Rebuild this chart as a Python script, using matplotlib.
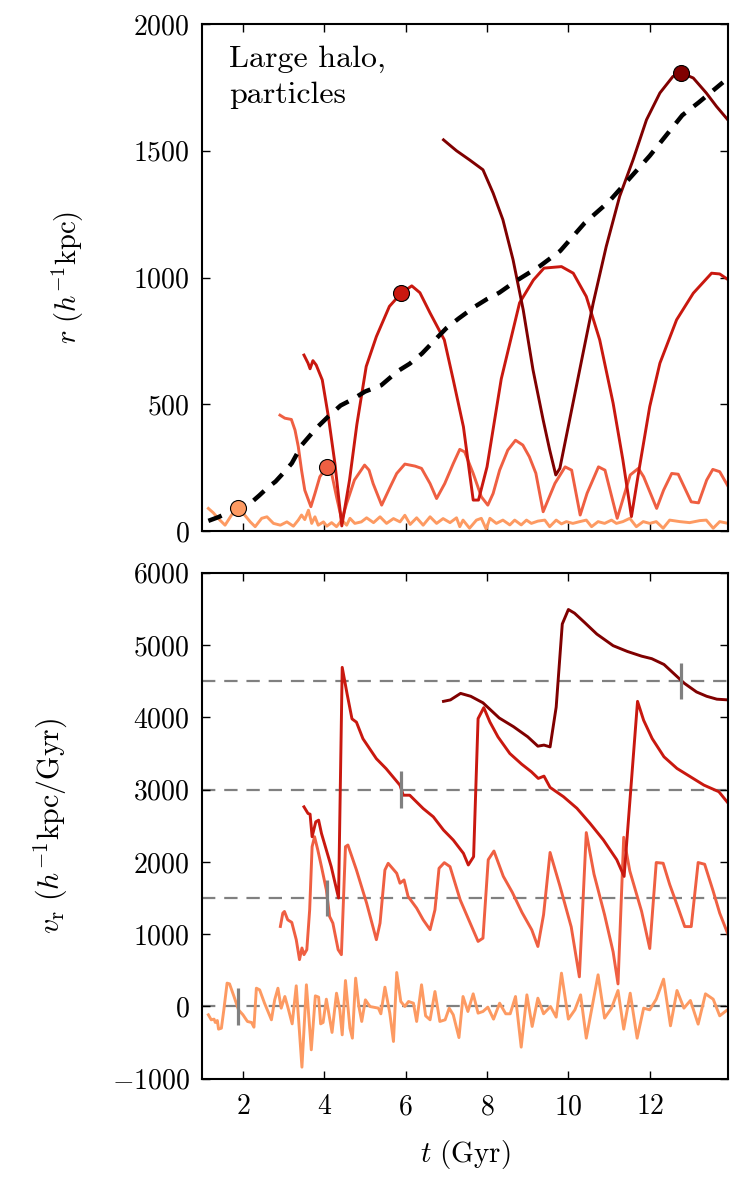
import numpy as np
import matplotlib
matplotlib.use("Agg")
import matplotlib.pyplot as plt

plt.rcParams.update({
    "font.family": "serif",
    "font.serif": ["cmr10", "DejaVu Serif"],
    "mathtext.fontset": "cm",
    "axes.formatter.use_mathtext": True,
    "axes.unicode_minus": True,
    "font.size": 20,
})

# ---------------- data ----------------
colors = ["#fd9a62", "#ef5f42", "#c9180f", "#800000"]
offsets = [0, 1500, 3000, 4500]

# halo radius (black dashed)
t_halo = [1.15, 1.4, 1.8, 2.2, 2.4, 2.6, 2.8, 3.0, 3.2, 3.45, 3.8, 4.1, 4.4, 4.7, 5.0,
          5.4, 5.8, 6.1, 6.4, 6.8, 7.0, 7.3, 7.7, 8.0, 8.3, 8.7, 9.0, 9.3, 9.8, 10.4,
          11.0, 11.5, 12.0, 12.4, 12.8, 13.2, 13.8]
r_halo = [40, 55, 85, 112, 140, 170, 195, 230, 267, 340, 405, 452, 495, 520, 550,
          575, 630, 660, 700, 767, 800, 838, 885, 915, 940, 985, 1015, 1045, 1105, 1215,
          1300, 1390, 1480, 1560, 1640, 1690, 1770]

# particle 1 (lightest)
t_r1 = [1.15, 1.27, 1.39, 1.56, 1.72, 1.87, 2.01, 2.18, 2.30, 2.46, 2.59, 2.75, 2.92, 3.08, 3.24,
        3.36, 3.44, 3.52, 3.61, 3.69, 3.77, 3.85, 3.98, 4.06, 4.18, 4.30, 4.43, 4.55, 4.63, 4.75,
        4.91, 5.04, 5.21, 5.37, 5.53, 5.70, 5.86, 5.98, 6.11, 6.27, 6.43, 6.60, 6.76, 6.92, 7.09,
        7.25, 7.33, 7.41, 7.57, 7.74, 7.86, 7.98, 8.07, 8.23, 8.39, 8.56, 8.68, 8.84, 8.97, 9.09,
        9.25, 9.42, 9.54, 9.70, 9.83, 9.95, 10.11, 10.28, 10.44, 10.57, 10.73, 10.89, 11.06, 11.18, 11.34,
        11.51, 11.67, 11.84, 12.0, 12.16, 12.33, 12.49, 12.74, 12.98, 13.23, 13.39, 13.56, 13.72, 13.93]
r_1 = [89, 72, 50, 23, 63, 93, 69, 36, 17, 50, 56, 30, 23, 36, 19,
       43, 63, 45, 82, 30, 56, 23, 36, 19, 33, 17, 43, 23, 50, 30,
       36, 52, 33, 56, 30, 49, 36, 62, 26, 52, 23, 56, 30, 49, 33,
       52, 17, 43, 11, 43, 50, 7, 50, 30, 43, 24, 43, 24, 43, 30,
       39, 43, 17, 43, 28, 37, 30, 37, 43, 17, 37, 30, 43, 30, 37,
       50, 17, 37, 30, 37, 11, 43, 37, 33, 41, 43, 11, 37, 30]
t_v1 = [1.15, 1.22, 1.29, 1.32, 1.37, 1.40, 1.47, 1.53, 1.61, 1.67, 1.78, 1.89, 2.0, 2.11, 2.21,
        2.27, 2.33, 2.41, 2.53, 2.70, 2.78, 2.86, 2.94, 3.03, 3.11, 3.21, 3.31, 3.45, 3.56, 3.68,
        3.78, 3.86, 3.91, 3.97, 4.05, 4.19, 4.30, 4.38, 4.44, 4.52, 4.63, 4.69, 4.77, 4.85, 4.92,
        5.01, 5.12, 5.33, 5.39, 5.49, 5.61, 5.70, 5.78, 5.88, 5.98, 6.07, 6.19, 6.27, 6.39, 6.49,
        6.60, 6.72, 6.84, 6.97, 7.07, 7.17, 7.31, 7.41, 7.53, 7.66, 7.78, 7.9, 8.02, 8.16, 8.31,
        8.46, 8.57, 8.70, 8.84, 8.98, 9.11, 9.25, 9.39, 9.56, 9.70, 9.83, 10.0, 10.16, 10.30, 10.44,
        10.73, 10.89, 11.06, 11.22, 11.36, 11.52, 11.69, 11.85, 12.0, 12.16, 12.34, 12.51, 12.67, 12.84, 13.0,
        13.19, 13.37, 13.56, 13.72, 13.93]
v_1 = [-115, -184, -175, -221, -194, -313, -300, -46, 323, 313, 138, -46, -115, -207, -221,
       -286, 253, 230, 46, -184, 92, 253, -23, 138, -23, -240, 286, -839, 300, -599,
       147, 129, -240, -221, 101, -359, 184, -46, -392, 359, -300, -438, 392, 0, -207,
       92, 0, -23, -101, 267, -92, -484, 470, 69, 0, 69, 46, -207, 300, -129,
       -184, 207, -207, -184, -23, -115, -430, 138, -69, 175, -92, -69, -9, -175, 46,
       -101, -101, 138, -562, 161, -276, 115, -101, 0, -147, 461, -175, -46, 161, -438,
       438, -161, -23, 221, -313, 184, -438, -23, -46, 101, 378, -267, 221, -23, 83,
       -244, 175, 101, -129, -37]

# particle 2
t_r2 = [2.91, 3.03, 3.19, 3.28, 3.36, 3.44, 3.52, 3.67, 3.77, 3.89, 4.06, 4.18, 4.3, 4.43, 4.55,
        4.74, 4.99, 5.1, 5.2, 5.41, 5.62, 5.78, 5.98, 6.23, 6.39, 6.6, 6.76, 6.96, 7.17, 7.33,
        7.45, 7.66, 7.86, 8.02, 8.15, 8.31, 8.51, 8.7, 8.88, 9.04, 9.2, 9.38, 9.67, 9.92, 10.08,
        10.29, 10.46, 10.74, 10.9, 11.2, 11.52, 11.72, 11.85, 12.17, 12.34, 12.54, 12.7, 13.02, 13.2, 13.4,
        13.55, 13.72, 13.93]
r_2 = [457, 445, 440, 398, 333, 240, 161, 96, 148, 214, 253, 227, 135, 43, 109,
       201, 260, 240, 187, 102, 174, 227, 264, 256, 247, 187, 128, 187, 266, 322,
       312, 227, 135, 102, 148, 240, 319, 358, 339, 293, 228, 76, 188, 253, 240,
       63, 149, 253, 240, 50, 221, 247, 214, 89, 161, 227, 224, 115, 111, 201,
       243, 234, 175]
t_v2 = [2.92, 2.98, 3.02, 3.1, 3.2, 3.31, 3.39, 3.45, 3.5, 3.57, 3.64, 3.7, 3.76, 3.84, 3.93,
        4.05, 4.13, 4.21, 4.34, 4.42, 4.52, 4.58, 4.79, 5.04, 5.28, 5.37, 5.49, 5.57, 5.78, 5.86,
        5.96, 6.06, 6.27, 6.43, 6.6, 6.72, 6.82, 6.95, 7.09, 7.34, 7.55, 7.78, 7.9, 8.03, 8.17,
        8.4, 8.62, 8.86, 9.1, 9.25, 9.39, 9.55, 9.79, 10.07, 10.27, 10.44, 10.63, 10.89, 11.1, 11.22,
        11.36, 11.51, 11.8, 12.0, 12.16, 12.33, 12.49, 12.7, 12.86, 13.02, 13.19, 13.35, 13.56, 13.72, 13.93]
v_2 = [-393, -209, -186, -301, -337, -576, -852, -691, -783, -714, -163, 710, 848, 664, 434,
       113, -255, -347, -714, -783, 710, 733, 388, -71, -576, -347, 388, 480, 342, 205,
       250, 21, -140, -301, -438, -163, 411, 489, 434, -25, -300, -600, -555, 530, 650,
       300, 80, -200, -440, -670, -230, 630, 170, -400, -1090, 905, 330, -232, -745, -1188,
       840, 374, -185, -698, 491, 481, 188, -139, -395, -395, 491, 467, 94, -209, -512]

# particle 3
t_r3 = [3.5, 3.6, 3.65, 3.72, 3.8, 3.95, 4.1, 4.26, 4.43, 4.62, 4.8, 5.03, 5.28, 5.6, 5.89,
        6.15, 6.35, 6.6, 6.95, 7.17, 7.42, 7.66, 7.79, 8.0, 8.35, 8.8, 9.14, 9.4, 9.83, 10.12,
        10.44, 10.77, 11.1, 11.34, 11.55, 11.75, 12.0, 12.25, 12.66, 13.07, 13.52, 13.72, 13.93]
r_3 = [694, 662, 640, 672, 655, 596, 451, 267, 20, 201, 420, 649, 767, 886, 938,
       967, 940, 860, 754, 596, 411, 122, 122, 253, 600, 900, 990, 1037, 1043, 1017,
       925, 754, 504, 280, 57, 254, 491, 662, 833, 938, 1017, 1014, 991]
t_v3 = [3.50, 3.60, 3.65, 3.70, 3.79, 3.86, 3.93, 4.05, 4.17, 4.35, 4.44, 4.56, 4.68, 4.79, 4.95,
        5.28, 5.52, 5.86, 5.94, 6.1, 6.43, 6.68, 6.93, 7.17, 7.42, 7.54, 7.67, 7.78, 7.92, 8.07,
        8.27, 8.56, 8.85, 9.09, 9.26, 9.40, 9.55, 9.88, 10.21, 10.53, 10.86, 11.19, 11.37, 11.70, 11.85,
        12.06, 12.35, 12.67, 13.0, 13.33, 13.70, 13.93]
v_3 = [-239, -331, -340, -652, -446, -423, -606, -836, -1066, -1500, 1690, 1323, 978, 932, 703,
       427, 289, 60, -78, -78, -262, -377, -560, -698, -882, -1043, -928, 981, 1133, 935,
       728, 499, 352, 246, 154, 186, 30, -99, -259, -466, -696, -971, -1201, 1220, 958,
       705, 453, 292, 177, 62, -30, -190]

# particle 4 (darkest)
t_r4 = [6.93, 7.1, 7.25, 7.57, 7.9, 8.15, 8.39, 8.64, 8.89, 9.13, 9.38, 9.54, 9.69, 9.79, 10.03,
        10.36, 10.61, 10.93, 11.26, 11.59, 11.92, 12.25, 12.57, 12.78, 13.07, 13.39, 13.64, 13.93]
r_4 = [1543, 1520, 1500, 1464, 1425, 1333, 1228, 1070, 872, 636, 438, 320, 221, 247, 438,
       701, 899, 1122, 1320, 1464, 1622, 1728, 1793, 1807, 1787, 1728, 1675, 1620]
t_v4 = [6.93, 7.1, 7.35, 7.6, 7.9, 8.3, 8.65, 9.0, 9.25, 9.4, 9.55, 9.7, 9.85, 10.0, 10.15,
        10.4, 10.7, 11.1, 11.45, 11.8, 12.05, 12.35, 12.6, 12.85, 13.15, 13.4, 13.65, 13.93]
v_4 = [-280, -260, -170, -210, -300, -510, -630, -770, -900, -885, -910, -360, 790, 990, 940,
       810, 650, 490, 410, 345, 310, 230, 100, -30, -150, -210, -250, -260]

# apocentre markers
t_mark = [1.87, 4.06, 5.89, 12.78]
r_mark = [92, 253, 938, 1807]

t_r = [t_r1, t_r2, t_r3, t_r4]
r_all = [r_1, r_2, r_3, r_4]
t_v = [t_v1, t_v2, t_v3, t_v4]
v_all = [v_1, v_2, v_3, v_4]

# ---------------- figure ----------------
fig = plt.figure(figsize=(7.5, 12), dpi=100)
ax1 = fig.add_axes([0.2697, 0.5575, 0.7013, 0.4225])
ax2 = fig.add_axes([0.2697, 0.1010, 0.7013, 0.4218])

for i in range(4):
    ax1.plot(t_r[i], r_all[i], color=colors[i], lw=2.1, zorder=2)
ax1.plot(t_halo, r_halo, color="black", lw=3.2, dashes=(3.2, 2.4), zorder=3)
for i in range(4):
    ax1.plot([t_mark[i]], [r_mark[i]], "o", ms=11.5, mfc=colors[i], mec="black",
             mew=0.8, zorder=4)

ax1.text(0.051, 0.958, "Large halo,\nparticles", transform=ax1.transAxes,
         ha="left", va="top", fontsize=23, linespacing=1.4)

for i in range(4):
    ax2.axhline(offsets[i], color="#808080", lw=1.6, dashes=(6, 4), zorder=1)
    ax2.plot(t_v[i], np.asarray(v_all[i]) + offsets[i], color=colors[i], lw=2.1, zorder=2)
    ax2.vlines(t_mark[i], offsets[i] - 250, offsets[i] + 250, color="#808080",
               lw=2.3, zorder=3)

for ax in (ax1, ax2):
    ax.set_xlim(1.0, 13.93)
    ax.set_xticks([2, 4, 6, 8, 10, 12])
    ax.tick_params(direction="in", top=True, right=True, length=6, width=1.0,
                   labelsize=20, pad=9)
    for sp in ax.spines.values():
        sp.set_linewidth(1.5)

ax1.set_ylim(0, 2000)
ax1.set_yticks([0, 500, 1000, 1500, 2000])
ax1.tick_params(labelbottom=False)
ax1.set_ylabel(r"$r\ (h^{-1}{\rm kpc})$", fontsize=20.5)
ax1.yaxis.set_label_coords(-0.222, 0.5)

ax2.set_ylim(-1000, 6000)
ax2.set_yticks([-1000, 0, 1000, 2000, 3000, 4000, 5000, 6000])
ax2.tick_params(axis="x", pad=11)
ax2.set_ylabel(r"$v_{\rm r}\ (h^{-1}{\rm kpc/Gyr})$", fontsize=21.5)
ax2.yaxis.set_label_coords(-0.252, 0.5)
ax2.set_xlabel(r"$t\ ({\rm Gyr})$", fontsize=21, labelpad=13)

fig.savefig("out.png", dpi=100)
